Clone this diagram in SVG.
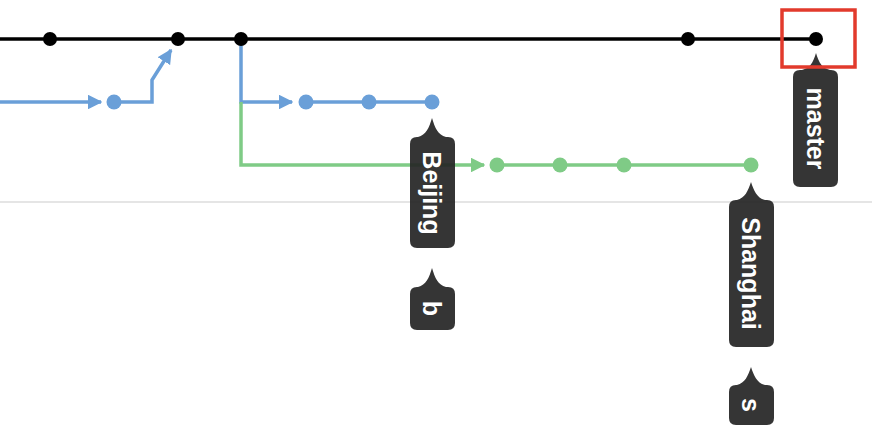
<svg xmlns="http://www.w3.org/2000/svg" width="872" height="442" viewBox="0 0 872 442">
<defs>
<style>
.bk{stroke:#000;stroke-width:3.5;fill:none}
.bl{stroke:#6a9fd8;stroke-width:3.5;fill:none}
.gr{stroke:#7fcb86;stroke-width:3.5;fill:none}
.dk{fill:#000}
.db{fill:#6a9fd8}
.dg{fill:#7fcb86}
.tag{fill:#262626;fill-opacity:0.93}
.tt{fill:#fff;font-family:"Liberation Sans",Arial,sans-serif;font-weight:bold;font-size:25px;text-anchor:middle;dominant-baseline:central}
</style>
<marker id="ab" viewBox="0 0 10 10" refX="9" refY="5" markerWidth="4.2" markerHeight="4.2" orient="auto" markerUnits="strokeWidth"><path d="M0,0 L10,5 L0,10 Z" fill="#6a9fd8"/></marker>
<marker id="ag" viewBox="0 0 10 10" refX="9" refY="5" markerWidth="4.2" markerHeight="4.2" orient="auto" markerUnits="strokeWidth"><path d="M0,0 L10,5 L0,10 Z" fill="#7fcb86"/></marker>
</defs>
<rect width="872" height="442" fill="#fff"/>
<line x1="0" y1="202" x2="872" y2="202" stroke="#dcdcdc" stroke-width="1.5"/>
<g id="connectors">
<line class="bk" x1="0" y1="39" x2="816" y2="39"/>
<line class="bl" x1="0" y1="102" x2="101" y2="102" marker-end="url(#ab)"/>
<path class="bl" d="M114,102 H152 V80 L171,50" marker-end="url(#ab)"/>
<path class="bl" d="M241,39 V102 H292" marker-end="url(#ab)"/>
<line class="bl" x1="306" y1="102" x2="432" y2="102"/>
<path class="gr" d="M241,102 V165 H484" marker-end="url(#ag)"/>
<line class="gr" x1="497" y1="165" x2="751" y2="165"/>
</g>
<g id="c1"><circle class="dk" cx="50" cy="39" r="7"/></g>
<g id="c2"><circle class="dk" cx="178" cy="39" r="7"/></g>
<g id="c3"><circle class="dk" cx="241" cy="39" r="7"/></g>
<g id="c4"><circle class="dk" cx="688" cy="39" r="7"/></g>
<g id="c5"><circle class="dk" cx="816" cy="39" r="7"/></g>
<g id="b0"><circle class="db" cx="114" cy="102" r="7.5"/></g>
<g id="b1"><circle class="db" cx="306" cy="102" r="7.5"/></g>
<g id="b2"><circle class="db" cx="369" cy="102" r="7.5"/></g>
<g id="b3"><circle class="db" cx="432" cy="102" r="7.5"/></g>
<g id="g1"><circle class="dg" cx="497" cy="165" r="7.5"/></g>
<g id="g2"><circle class="dg" cx="560" cy="165" r="7.5"/></g>
<g id="g3"><circle class="dg" cx="624" cy="165" r="7.5"/></g>
<g id="g4"><circle class="dg" cx="751" cy="165" r="7.5"/></g>
<g id="tag-beijing">
<path class="tag" d="M432,118 C435,128 438,135 446,137 H448 Q455,137 455,144 V241 Q455,248 448,248 H417 Q410,248 410,241 V144 Q410,137 417,137 H418 C426,135 429,128 432,118 Z"/>
<text class="tt" transform="translate(432,193) rotate(90)">Beijing</text>
</g>
<g id="tag-b">
<path class="tag" d="M432,268 C435,278 438,285 446,287 H448 Q455,287 455,294 V323 Q455,330 448,330 H417 Q410,330 410,323 V294 Q410,287 417,287 H418 C426,285 429,278 432,268 Z"/>
<text class="tt" transform="translate(432,308.5) rotate(90)">b</text>
</g>
<g id="tag-master">
<path class="tag" d="M816,53 C819,63 822,68 830,70 H831 Q838,70 838,77 V180 Q838,187 831,187 H800 Q793,187 793,180 V77 Q793,70 800,70 H802 C810,68 813,63 816,53 Z"/>
<text class="tt" transform="translate(815.5,128.5) rotate(90)">master</text>
</g>
<g id="tag-shanghai">
<path class="tag" d="M751,182 C754,191 757,198 765,200 H767 Q774,200 774,207 V340 Q774,347 767,347 H736 Q729,347 729,340 V207 Q729,200 736,200 H737 C745,198 748,191 751,182 Z"/>
<text class="tt" transform="translate(751,273.5) rotate(90)">Shanghai</text>
</g>
<g id="tag-s">
<path class="tag" d="M751,367 C754,376 757,383 765,385 H767 Q774,385 774,392 V418 Q774,425 767,425 H736 Q729,425 729,418 V392 Q729,385 736,385 H737 C745,383 748,376 751,367 Z"/>
<text class="tt" transform="translate(751,405) rotate(90)">s</text>
</g>
<g id="highlight"><rect x="782" y="10" width="73" height="57" fill="none" stroke="#e23a2c" stroke-width="3.5"/></g>
</svg>
